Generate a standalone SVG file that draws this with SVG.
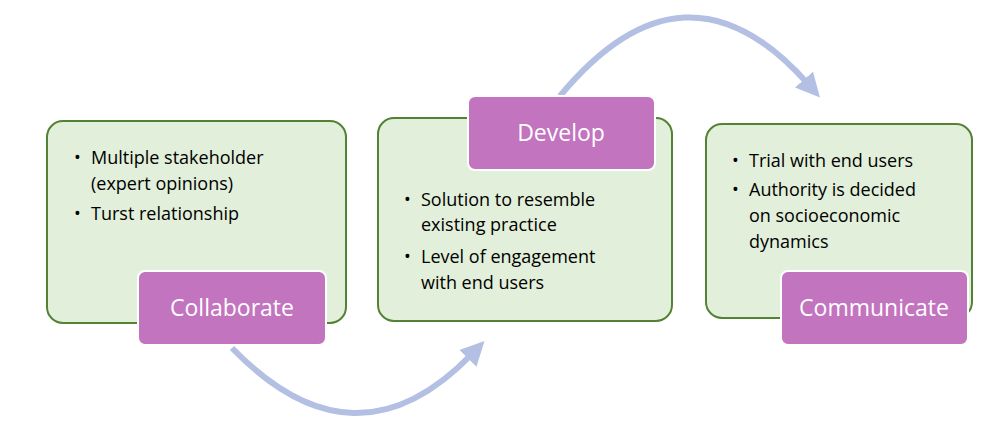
<svg xmlns="http://www.w3.org/2000/svg" width="1006" height="444" viewBox="0 0 1006 444">
<style>
.box{fill:#e2efda;stroke:#548235;stroke-width:2}
.lab{fill:#c374bf;stroke:#fff;stroke-width:2}
.t{font-family:"Open Sans","Liberation Sans",sans-serif;font-size:18px;fill:#000}
.l{font-family:"Open Sans","Liberation Sans",sans-serif;font-size:23px;fill:#fff;text-anchor:middle}
.arc{fill:none;stroke:#b4c0e3;stroke-width:6}
</style>
<defs><marker id="ah" markerWidth="4" markerHeight="4" refX="1" refY="2" orient="auto" markerUnits="strokeWidth"><path d="M0,0L4,2L0,4z" fill="#b4c0e3"/></marker></defs>
<g id="connectors">
<path class="arc" d="M232,348 Q355,475 472,354" marker-end="url(#ah)"/>
<path class="arc" d="M560,96 Q685,-55 808,84" marker-end="url(#ah)"/>
</g>
<g id="collaborate">
<rect class="box" x="47" y="121" width="299" height="202" rx="16"/>
<text class="t"><tspan x="74" y="164">•</tspan><tspan x="91" y="164">Multiple stakeholder</tspan><tspan x="91" y="190">(expert opinions)</tspan><tspan x="74" y="220">•</tspan><tspan x="91" y="220">Turst relationship</tspan></text>
<rect class="lab" x="138" y="271" width="188" height="74" rx="7"/>
<text class="l" x="232" y="316">Collaborate</text>
</g>
<g id="develop">
<rect class="box" x="378" y="118" width="294" height="203" rx="16"/>
<text class="t"><tspan x="404" y="206">•</tspan><tspan x="421" y="206">Solution to resemble</tspan><tspan x="421" y="231">existing practice</tspan><tspan x="404" y="263">•</tspan><tspan x="421" y="263">Level of engagement</tspan><tspan x="421" y="289">with end users</tspan></text>
<rect class="lab" x="468" y="96" width="187" height="74" rx="7"/>
<text class="l" x="561" y="141">Develop</text>
</g>
<g id="communicate">
<rect class="box" x="706" y="124" width="266" height="194" rx="16"/>
<text class="t"><tspan x="732" y="167">•</tspan><tspan x="749" y="167">Trial with end users</tspan><tspan x="732" y="196">•</tspan><tspan x="749" y="196">Authority is decided</tspan><tspan x="749" y="222">on socioeconomic</tspan><tspan x="749" y="248">dynamics</tspan></text>
<rect class="lab" x="781" y="271" width="187" height="74" rx="7"/>
<text class="l" x="874" y="316">Communicate</text>
</g>
</svg>
